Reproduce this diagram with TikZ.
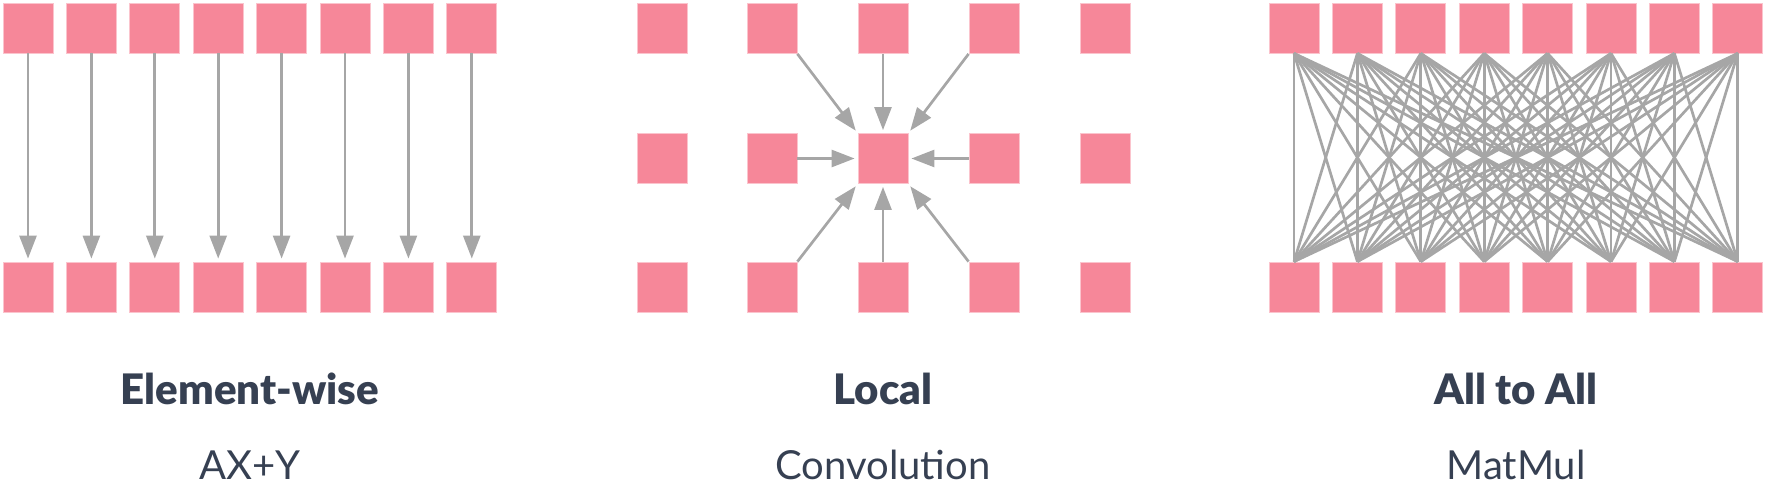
\documentclass[tikz,border=0pt]{standalone}
\usepackage{fontspec}
\setmainfont{Lato}[BoldFont={Lato Black}]
\usetikzlibrary{arrows.meta}
\definecolor{cellpink}{RGB}{246,135,153}
\definecolor{celledge}{RGB}{251,196,205}
\definecolor{wiregray}{RGB}{166,166,166}
\definecolor{labelink}{RGB}{54,64,82}

\begin{document}
\begin{tikzpicture}[x=1pt,y=-1pt]
    \tikzstyle{cell}=[draw=celledge,line width=0.8pt,fill=cellpink,minimum size=50pt,inner sep=0pt]
    \tikzstyle{edge} = [draw,wiregray,line width=2.7pt,-{Triangle[length=23pt,width=17pt]},shorten >=3pt]
    \tikzstyle{wire} = [draw,wiregray,line width=2.7pt]
    \tikzstyle{title} = [text=labelink,anchor=base,font=\fontsize{42}{50}\selectfont\bfseries]
    \tikzstyle{sub} = [text=labelink,anchor=base,font=\fontsize{40}{48}\selectfont]

    \useasboundingbox (0,0) rectangle (1765,494);

    % element-wise
    \foreach \i in {0,...,7} {
        \node[cell] (et\i) at (28+63.4*\i, 28) {};
        \node[cell] (eb\i) at (28+63.4*\i, 287) {};
        \path[edge] (et\i) -- (eb\i);
    }

    % local
    \foreach \c/\x in {0/662,1/772,2/883,3/994,4/1105} {
        \foreach \r/\y in {0/28.5,1/158.5,2/287} {
            \node[cell] (l\r\c) at (\x,\y) {};
        }
    }
    \path[edge] (l01.south east) -- (l12.north west);
    \path[edge] (l02) -- (l12);
    \path[edge] (l03.south west) -- (l12.north east);
    \path[edge] (l11) -- (l12);
    \path[edge] (l13) -- (l12);
    \path[edge] (l21.north east) -- (l12.south west);
    \path[edge] (l22) -- (l12);
    \path[edge] (l23.north west) -- (l12.south east);

    % all to all
    \foreach \i in {0,...,7} {
        \node[cell] (at\i) at (1294+63.4*\i, 28) {};
        \node[cell] (ab\i) at (1294+63.4*\i, 287) {};
    }
    \foreach \i in {0,...,7}
        \foreach \j in {0,...,7}
            \path[wire] (at\i.south) -- (ab\j.north);

    \node[title] (ewname) at (250,404) {Element-wise};
    \node[sub] (ewop) at (250,479) {AX+Y};
    \node[title] (lcname) at (883,404) {Local};
    \node[sub] (lcop) at (883,479) {Convolution};
    \node[title] (aaname) at (1516,404) {All to All};
    \node[sub] (aaop) at (1516,479) {MatMul};
\end{tikzpicture}
\end{document}
